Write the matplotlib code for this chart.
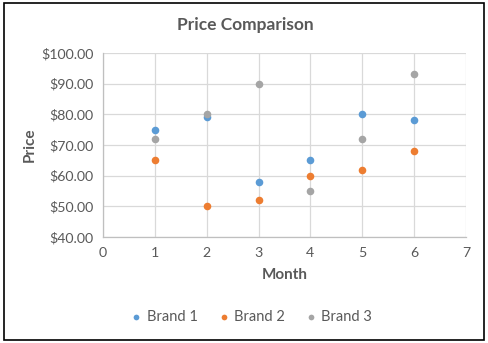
import numpy as np
import matplotlib.pyplot as plt
from matplotlib.patches import Rectangle
from matplotlib.ticker import FuncFormatter

plt.rcParams['font.family'] = ['Lato', 'DejaVu Sans']

months = [1, 2, 3, 4, 5, 6]
brand1 = [75, 79, 58, 65, 80, 78]
brand2 = [65, 50, 52, 60, 62, 68]
brand3 = [72, 80, 90, 55, 72, 93]
series_names = ['Brand 1', 'Brand 2', 'Brand 3']
colors = ['#5B9BD5', '#ED7D31', '#A5A5A5']
text_col = '#595959'

fig = plt.figure(figsize=(4.88, 3.43), dpi=100)
ax = fig.add_axes([103/488, 1 - 237/343, (466-103)/488, (237-53)/343])

for vals, name, c in zip([brand1, brand2, brand3], series_names, colors):
    ax.scatter(months, vals, s=30, color=c, label=name, zorder=3, linewidths=0)

ax.set_xlim(0, 7)
ax.set_ylim(40, 100)
ax.set_xticks(range(0, 8))
ax.set_yticks(range(40, 101, 10))
ax.yaxis.set_major_formatter(FuncFormatter(lambda v, p: '${:.2f}'.format(v)))
ax.grid(True, color='#d9d9d9', linewidth=0.9)
ax.set_axisbelow(True)
for s in ['top', 'right']:
    ax.spines[s].set_visible(False)
for s in ['left', 'bottom']:
    ax.spines[s].set_color('#bfbfbf')
    ax.spines[s].set_linewidth(0.9)
ax.tick_params(length=0, colors=text_col, labelsize=10.2, pad=7)

ax.set_xlabel('Month', fontsize=11, fontweight='bold', color=text_col, labelpad=7)
ax.set_ylabel('Price', fontsize=11, fontweight='bold', color=text_col, labelpad=3)
fig.text(245/488, 1 - 25/343, 'Price Comparison', ha='center', va='center',
         fontsize=12.5, fontweight='bold', color=text_col)

leg = fig.legend(loc='center', bbox_to_anchor=(250/488, 1 - 317/343), ncol=3,
                 frameon=False, fontsize=10.5, handletextpad=0.1, columnspacing=1.2,
                 markerscale=0.75, handlelength=1.2)
for t in leg.get_texts():
    t.set_color(text_col)

fig.patches.append(Rectangle((4/488, 1 - 340/343), 480/488, 337/343,
                             transform=fig.transFigure, fill=False,
                             edgecolor='black', linewidth=1.2))

fig.savefig('out.png', dpi=100)
